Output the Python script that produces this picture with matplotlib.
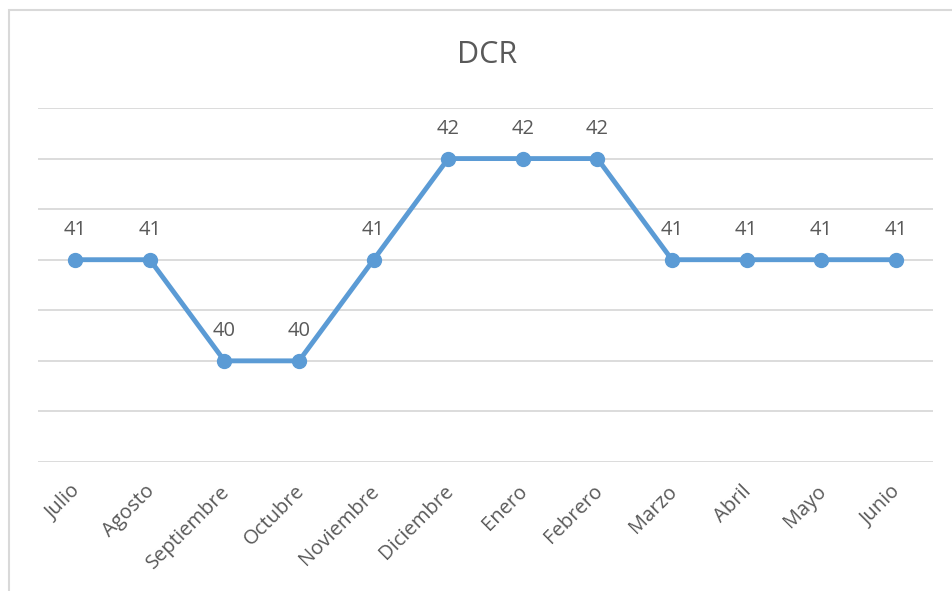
import matplotlib.pyplot as plt
from matplotlib.patches import Rectangle
from matplotlib.transforms import ScaledTranslation

plt.rcParams['font.family'] = ['Open Sans', 'DejaVu Sans']

meses = ['Julio', 'Agosto', 'Septiembre', 'Octubre', 'Noviembre', 'Diciembre',
         'Enero', 'Febrero', 'Marzo', 'Abril', 'Mayo', 'Junio']
dcr = [41, 41, 40, 40, 41, 42, 42, 42, 41, 41, 41, 41]

gris = '#595959'
azul = '#5B9BD5'

fig = plt.figure(figsize=(9.52, 5.91), dpi=100)
ax = fig.add_axes([38 / 952, 1 - 462 / 591, (933 - 38) / 952, (462 - 108) / 591])

# borde del area del grafico
fig.patches.append(Rectangle((9 / 952, -0.1), 1.0, 1 - 10 / 591 + 0.1,
                             transform=fig.transFigure, fill=False,
                             edgecolor='#D9D9D9', linewidth=1.5))

x = list(range(len(meses)))
ax.plot(x, dcr, color=azul, linewidth=3.5, marker='o', markersize=10, zorder=3)

for xi, v in zip(x, dcr):
    ax.annotate(str(v), (xi, v), xytext=(0, 21.5), textcoords='offset points',
                ha='center', va='center', fontsize=14.5, color=gris)

ax.set_xlim(-0.5, len(meses) - 0.5)
ax.set_ylim(39, 42.5)
ax.set_yticks([39 + 0.5 * i for i in range(8)])
ax.yaxis.grid(True, color='#D9D9D9', linewidth=1.3)
ax.set_axisbelow(True)
ax.tick_params(axis='y', left=False, labelleft=False)
ax.tick_params(axis='x', length=0, pad=14)
ax.set_xticks(x)
ax.set_xticklabels(meses, rotation=45, ha='right', va='top',
                   rotation_mode='anchor', fontsize=14.5, color=gris)
desplaza = ScaledTranslation(-0.05, 0, fig.dpi_scale_trans)
for lbl in ax.get_xticklabels():
    lbl.set_transform(lbl.get_transform() + desplaza)
for s in ax.spines.values():
    s.set_visible(False)

fig.text(487 / 952, 1 - 55 / 591, 'DCR', ha='center', va='center',
         fontsize=22, color=gris)

fig.savefig('out.png', dpi=100)
